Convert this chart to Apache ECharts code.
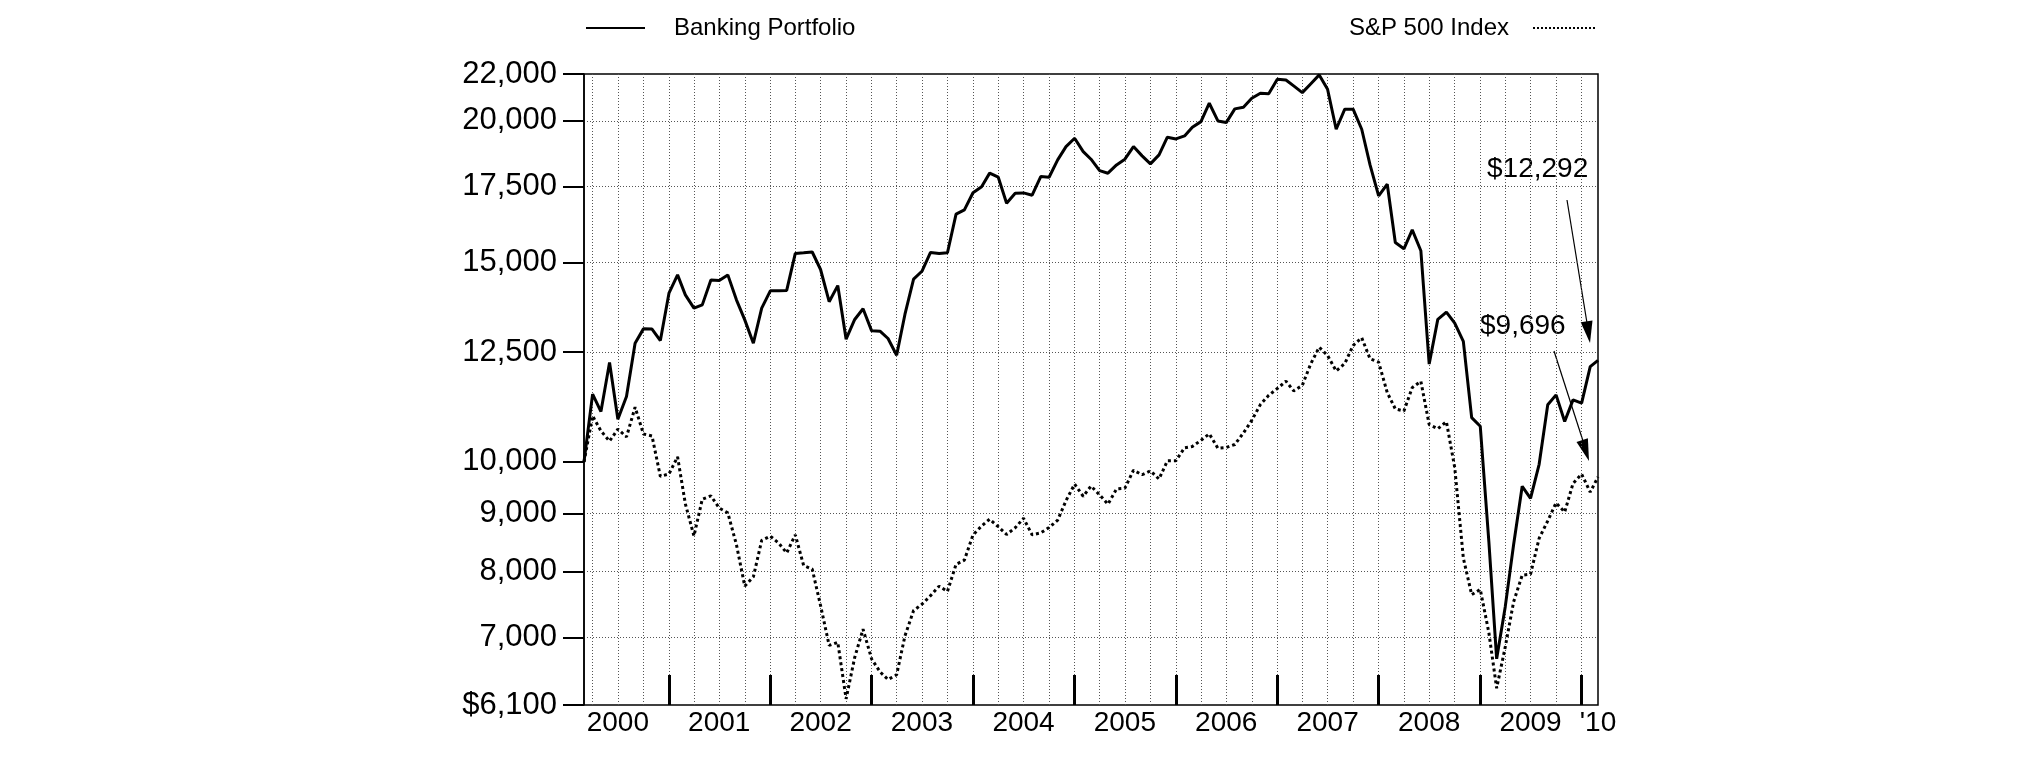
<!DOCTYPE html>
<html>
<head>
<meta charset="utf-8">
<script src="https://cdn.jsdelivr.net/npm/echarts@6/dist/echarts.min.js"></script>
<style>
html,body{margin:0;padding:0;background:#fff;}
#chart{width:2025px;height:761px;}
</style>
</head>
<body>
<div id="chart"></div>
<script>
// Month-end observation months (value of $10,000 invested at end of Feb 2000)
const months = [
  '2000-02','2000-03','2000-04','2000-05','2000-06','2000-07','2000-08','2000-09','2000-10','2000-11','2000-12',
  '2001-01','2001-02','2001-03','2001-04','2001-05','2001-06','2001-07','2001-08','2001-09','2001-10','2001-11','2001-12',
  '2002-01','2002-02','2002-03','2002-04','2002-05','2002-06','2002-07','2002-08','2002-09','2002-10','2002-11','2002-12',
  '2003-01','2003-02','2003-03','2003-04','2003-05','2003-06','2003-07','2003-08','2003-09','2003-10','2003-11','2003-12',
  '2004-01','2004-02','2004-03','2004-04','2004-05','2004-06','2004-07','2004-08','2004-09','2004-10','2004-11','2004-12',
  '2005-01','2005-02','2005-03','2005-04','2005-05','2005-06','2005-07','2005-08','2005-09','2005-10','2005-11','2005-12',
  '2006-01','2006-02','2006-03','2006-04','2006-05','2006-06','2006-07','2006-08','2006-09','2006-10','2006-11','2006-12',
  '2007-01','2007-02','2007-03','2007-04','2007-05','2007-06','2007-07','2007-08','2007-09','2007-10','2007-11','2007-12',
  '2008-01','2008-02','2008-03','2008-04','2008-05','2008-06','2008-07','2008-08','2008-09','2008-10','2008-11','2008-12',
  '2009-01','2009-02','2009-03','2009-04','2009-05','2009-06','2009-07','2009-08','2009-09','2009-10','2009-11','2009-12',
  '2010-01','2010-02'
];

const banking = [
  10000, 11475, 11077, 12236, 10906, 11420, 12728, 13104, 13098, 12796, 14090,
  14624, 14041, 13667, 13759, 14476, 14456, 14624, 13900, 13346, 12728, 13667, 14157,
  14162, 14170, 15275, 15297, 15321, 14785, 13849, 14309, 12832, 13357, 13651, 13051,
  13040, 12850, 12419, 13501, 14497, 14732, 15308, 15275, 15297, 16545, 16689, 17281,
  17495, 17985, 17836, 16919, 17265, 17277, 17196, 17858, 17836, 18475, 18982, 19307,
  18789, 18501, 18078, 17982, 18288, 18501, 18982, 18627, 18325, 18664, 19348, 19280,
  19398, 19744, 19970, 20731, 19999, 19931, 20494, 20565, 20943, 21157, 21136, 21767,
  21736, 21473, 21183, 21561, 21960, 21330, 19664, 20481, 20481, 19664, 18288, 17172,
  17584, 15620, 15420, 16024, 15360, 12200, 13360, 13560, 13260, 12775, 10940, 10750,
  8500, 6700, 7450, 8450, 9515, 9285, 9950, 11229, 11459, 10854, 11343, 11268,
  12137, 12292
];

const sp500 = [
  10000, 10978, 10648, 10430, 10687, 10520, 11174, 10584, 10539, 9709, 9757,
  10103, 9182, 8601, 9269, 9331, 9104, 9015, 8451, 7768, 7917, 8524, 8599,
  8473, 8310, 8622, 8100, 8040, 7467, 6885, 6930, 6177, 6720, 7116, 6698,
  6522, 6424, 6487, 7021, 7391, 7486, 7618, 7767, 7684, 8119, 8190, 8619,
  8778, 8900, 8765, 8628, 8746, 8916, 8621, 8655, 8749, 8883, 9242, 9557,
  9324, 9520, 9351, 9174, 9465, 9478, 9831, 9741, 9820, 9656, 10021, 10024,
  10290, 10318, 10446, 10586, 10281, 10295, 10359, 10605, 10879, 11234, 11448, 11608,
  11783, 11552, 11681, 12199, 12625, 12415, 12030, 12211, 12668, 12869, 12331, 12246,
  11511, 11137, 11089, 11629, 11780, 10787, 10696, 10851, 9884, 8224, 7634, 7715,
  7065, 6312, 6865, 7522, 7942, 7958, 8560, 8869, 9200, 9029, 9570, 9755,
  9404, 9696
];

const yTickValues = [6100, 7000, 8000, 9000, 10000, 12500, 15000, 17500, 20000, 22000];
const yGridValues = [7000, 8000, 9000, 12500, 15000, 17500, 20000];
const yearLabels = ['2000','2001','2002','2003','2004','2005','2006','2007','2008','2009',"'10"];
const seriesNames = ['Banking Portfolio', 'S&P 500 Index'];
const annotations = ['$12,292', '$9,696'];

// month-end close plotted at the first instant of the following month (UTC ms)
function monthEnd(s) {
  const p = s.split('-').map(Number);
  return Date.UTC(p[0], p[1], 1);
}
const dates = months.map(monthEnd);
const xMin = dates[0];
const xMax = dates[dates.length - 1];

const quarterLines = [];
for (let y = 2000; y <= 2010; y++) {
  [0, 3, 6, 9].forEach(function (m) {
    const t = Date.UTC(y, m, 1);
    if (t > xMin && t < xMax) quarterLines.push(t);
  });
}
const yearTicks = [];
for (let y = 2001; y <= 2010; y++) yearTicks.push(Date.UTC(y, 0, 1));
const labelPos = [];
for (let y = 2000; y <= 2009; y++) labelPos.push(Date.UTC(y, 6, 1));
labelPos.push(xMax);

const FONT = '"Liberation Sans", Arial, Helvetica, sans-serif';
const gridLineStyle = { color: '#555', width: 1, type: [1, 2] };

function xLabelFmt(v) {
  if (v >= xMax - 86400000) return yearLabels[yearLabels.length - 1];
  const y = new Date(v).getUTCFullYear();
  return yearLabels[y - 2000];
}
function yLabelFmt(v) {
  const r = Math.round(v);
  const s = r.toString().replace(/\B(?=(\d{3})+(?!\d))/g, ',');
  return r === 6100 ? '$' + s : s;
}

const chart = echarts.init(document.getElementById('chart'), null, { renderer: 'canvas' });
const option = {
  animation: false,
  backgroundColor: '#ffffff',
  textStyle: { fontFamily: FONT, color: '#000' },
  grid: {
    left: 584, right: 427, top: 74, bottom: 56,
    show: true, borderColor: '#000', borderWidth: 1.5, backgroundColor: 'transparent'
  },
  legend: [
    {
      data: [seriesNames[0]], left: 585, top: 16, padding: 0,
      itemWidth: 59, itemHeight: 24, align: 'left',
      itemStyle: { opacity: 0, color: 'rgba(0,0,0,0)', borderWidth: 0 },
      lineStyle: { width: 2, opacity: 1 },
      textStyle: { fontSize: 24, color: '#000', fontFamily: FONT, padding: [0, 0, 0, 24] }
    },
    {
      data: [seriesNames[1]], right: 427, top: 16, padding: 0,
      itemWidth: 64, itemHeight: 24, align: 'right',
      itemStyle: { opacity: 0, color: 'rgba(0,0,0,0)', borderWidth: 0 },
      lineStyle: { width: 2, type: [2, 2], opacity: 1 },
      textStyle: { fontSize: 24, color: '#000', fontFamily: FONT, padding: [0, 19, 0, 0] }
    }
  ],
  xAxis: [
    {
      type: 'value', position: 'bottom', min: xMin, max: xMax,
      axisLine: { show: false },
      axisTick: { show: false, customValues: quarterLines },
      axisLabel: { show: false },
      splitLine: { show: true, lineStyle: gridLineStyle }
    },
    {
      type: 'value', position: 'bottom', min: xMin, max: xMax,
      axisLine: { show: false },
      axisTick: { show: true, inside: true, length: 30, customValues: yearTicks,
                  lineStyle: { color: '#000', width: 3 } },
      axisLabel: { show: false },
      splitLine: { show: false }
    },
    {
      type: 'value', position: 'bottom', min: xMin, max: xMax,
      axisLine: { show: false },
      axisTick: { show: false },
      axisLabel: { show: true, customValues: labelPos, formatter: xLabelFmt,
                   fontSize: 28, color: '#000', fontFamily: FONT, margin: 4, hideOverlap: false },
      splitLine: { show: false }
    }
  ],
  yAxis: [
    {
      type: 'log', logBase: 10, min: 6100, max: 22000, position: 'left',
      axisLine: { show: true, lineStyle: { color: '#000', width: 1.5 } },
      axisTick: { show: true, inside: false, length: 21, customValues: yTickValues,
                  lineStyle: { color: '#000', width: 2 } },
      axisLabel: { show: true, customValues: yTickValues, formatter: yLabelFmt,
                   fontSize: 31, color: '#000', fontFamily: FONT, margin: 27, hideOverlap: false },
      splitLine: { show: false }
    },
    {
      type: 'log', logBase: 10, min: 6100, max: 22000, position: 'left',
      axisLine: { show: false },
      axisTick: { show: false, customValues: yGridValues },
      axisLabel: { show: false },
      splitLine: { show: true, lineStyle: gridLineStyle }
    }
  ],
  series: [
    {
      name: seriesNames[0], type: 'line', xAxisIndex: 0, yAxisIndex: 0,
      data: dates.map(function (d, i) { return [d, banking[i]]; }),
      symbol: 'none', smooth: false, z: 4,
      itemStyle: { color: '#000' },
      lineStyle: { color: '#000', width: 3 }
    },
    {
      name: seriesNames[1], type: 'line', xAxisIndex: 0, yAxisIndex: 0,
      data: dates.map(function (d, i) { return [d, sp500[i]]; }),
      symbol: 'none', smooth: false, z: 3,
      itemStyle: { color: '#000' },
      lineStyle: { color: '#000', width: 3, type: [3, 3], cap: 'butt' }
    }
  ],
  graphic: [
    { type: 'text', left: 1487, top: 155, style: { text: annotations[0], font: '28px ' + FONT, fill: '#000' } },
    { type: 'text', left: 1480, top: 312, style: { text: annotations[1], font: '28px ' + FONT, fill: '#000' } },
    { type: 'line', shape: { x1: 1567, y1: 200, x2: 1587, y2: 323 }, style: { stroke: '#000', lineWidth: 1.2 } },
    { type: 'polygon', shape: { points: [[1590, 343], [1580.7, 322.2], [1592.5, 320.4]] }, style: { fill: '#000' } },
    { type: 'line', shape: { x1: 1554, y1: 351, x2: 1583, y2: 441 }, style: { stroke: '#000', lineWidth: 1.2 } },
    { type: 'polygon', shape: { points: [[1589, 461], [1576.5, 442.0], [1587.9, 438.2]] }, style: { fill: '#000' } }
  ]
};
chart.setOption(option);
</script>
</body>
</html>
